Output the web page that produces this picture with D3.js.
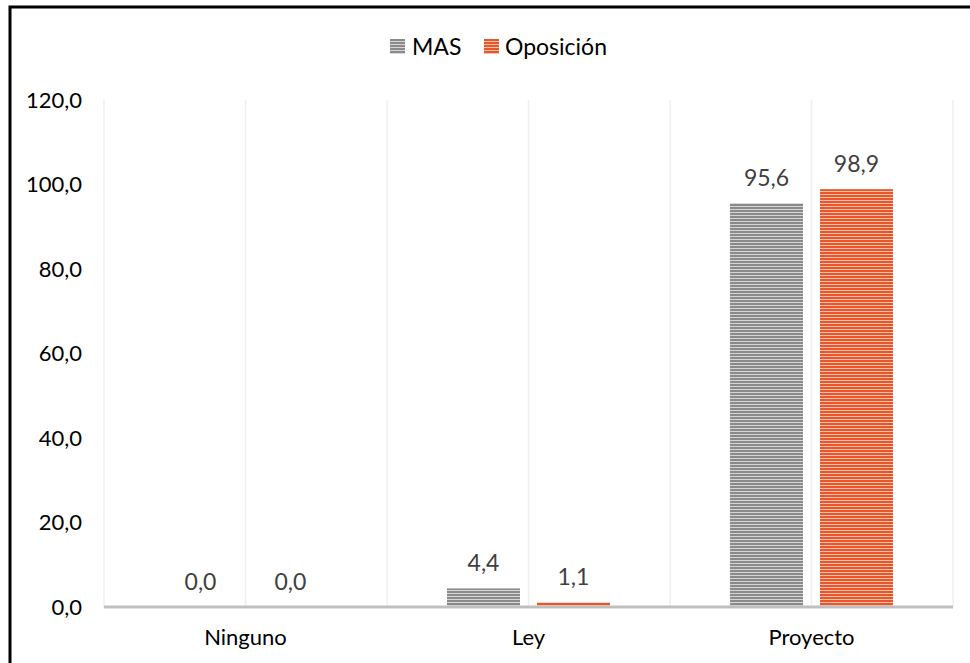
<!DOCTYPE html>
<html><head><meta charset="utf-8">
<script src="https://cdn.jsdelivr.net/npm/d3@7"></script>
<style>html,body{margin:0;padding:0;background:#fff;}svg{display:block;}</style>
</head><body>
<svg id="c" width="970" height="663"></svg>
<script>
const categories = ["Ninguno", "Ley", "Proyecto"];
const seriesNames = ["MAS", "Oposición"];
const masValues = [0.0, 4.4, 95.6];
const oposicionValues = [0.0, 1.1, 98.9];
const yTicks = [0, 20, 40, 60, 80, 100, 120];

const seriesValues = [masValues, oposicionValues];
const colors = {MAS: {dark: "#8a8a8a", light: "#d6d6d6"}, "Oposición": {dark: "#e8562a", light: "#f6c2ae"}};
const fmt = v => d3.format(".1f")(v).replace(".", ",");
const font = "Lato, 'Open Sans', sans-serif";

const svg = d3.select("#c");
const defs = svg.append("defs");
seriesNames.forEach((s, i) => {
  const p = defs.append("pattern").attr("id", "pat" + i).attr("patternUnits", "userSpaceOnUse")
    .attr("width", 6).attr("height", 3);
  p.append("rect").attr("width", 6).attr("height", 3).attr("fill", colors[s].light);
  p.append("rect").attr("width", 6).attr("height", 2).attr("fill", colors[s].dark);
});

// outer border
svg.append("rect").attr("x", 10).attr("y", 7).attr("width", 1000).attr("height", 700)
  .attr("fill", "none").attr("stroke", "#000").attr("stroke-width", 3);

const pLeft = 104, pRight = 953, pTop = 100, pBottom = 607;
const x0 = d3.scaleBand().domain(categories).range([pLeft, pRight]);
const x1 = d3.scaleBand().domain(seriesNames).range([0, x0.bandwidth()]).paddingInner(0.189).paddingOuter(0.667);
const y = d3.scaleLinear().domain([0, 120]).range([pBottom, pTop]);

// vertical gridlines
const gx = [];
categories.forEach(c => { gx.push(x0(c)); gx.push(x0(c) + x0.bandwidth() / 2); });
gx.push(pRight);
svg.append("g").selectAll("line").data(gx).join("line")
  .attr("x1", d => d).attr("x2", d => d).attr("y1", pTop).attr("y2", pBottom)
  .attr("stroke", "#efefef").attr("stroke-width", 1.5);

// y tick labels
svg.append("g").selectAll("text").data(yTicks).join("text")
  .attr("x", 82).attr("y", d => y(d)).attr("dy", "0.35em").attr("text-anchor", "end")
  .attr("font-family", font).attr("font-size", 22).attr("fill", "#000").text(d => fmt(d));

// bars
const g = svg.append("g");
categories.forEach((c, ci) => {
  seriesNames.forEach((s, si) => {
    const v = seriesValues[si][ci];
    const bx = x0(c) + x1(s);
    g.append("rect").attr("x", bx).attr("y", y(v)).attr("width", x1.bandwidth())
      .attr("height", y(0) - y(v)).attr("fill", `url(#pat${si})`);
    g.append("text").attr("x", bx + x1.bandwidth() / 2).attr("y", y(v) - 17)
      .attr("text-anchor", "middle").attr("font-family", font).attr("font-size", 23)
      .attr("fill", "#404040").text(fmt(v));
  });
});

// x axis line
svg.append("line").attr("x1", pLeft).attr("x2", pRight).attr("y1", pBottom).attr("y2", pBottom)
  .attr("stroke", "#bfbfbf").attr("stroke-width", 3);

// category labels
svg.append("g").selectAll("text").data(categories).join("text")
  .attr("x", d => x0(d) + x0.bandwidth() / 2).attr("y", 645).attr("text-anchor", "middle")
  .attr("font-family", font).attr("font-size", 22).attr("fill", "#000").text(d => d);

// legend
const legendItems = [{s: "MAS", sx: 390, tx: 412}, {s: "Oposición", sx: 484, tx: 505}];
legendItems.forEach((it, i) => {
  svg.append("rect").attr("x", it.sx).attr("y", 39).attr("width", 15).attr("height", 15)
    .attr("fill", `url(#pat${i})`);
  svg.append("text").attr("x", it.tx).attr("y", 47).attr("dy", "0.35em")
    .attr("font-family", font).attr("font-size", 23).attr("fill", "#000").text(it.s);
});
</script>
</body></html>
